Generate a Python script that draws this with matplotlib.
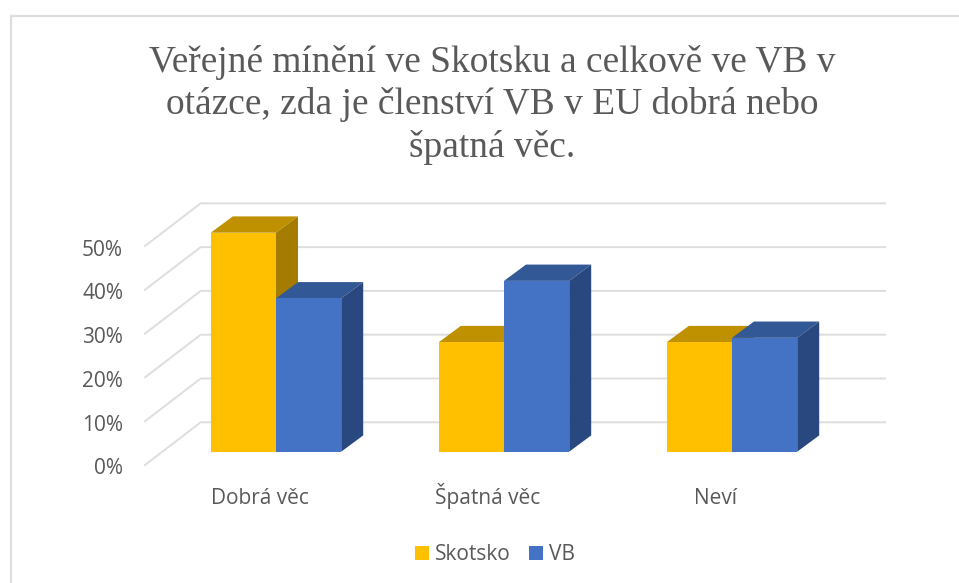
import numpy as np
import matplotlib
matplotlib.use("Agg")
import matplotlib.pyplot as plt
from matplotlib.patches import Polygon

categories = ["Dobrá věc", "Špatná věc", "Neví"]
skotsko = [50, 25, 25]
vb = [35, 39, 26]
ticks = [0, 10, 20, 30, 40, 50]
tick_labels = ["0%", "10%", "20%", "30%", "40%", "50%"]
title = "Veřejné mínění ve Skotsku a celkově ve VB v\notázce, zda je členství VB v EU dobrá nebo\nšpatná věc."

W, H = 959, 583
GROUP_PX = 228.0
PCT_PX = 4.38
X0_PX, Y0_PX = 276.0, 451.7

fig = plt.figure(figsize=(W / 100, H / 100), dpi=100)
ax = fig.add_axes([0, 0, 1, 1])
ax.set_xlim((0 - X0_PX) / GROUP_PX, (W - X0_PX) / GROUP_PX)
ax.set_ylim((Y0_PX - H) / PCT_PX, Y0_PX / PCT_PX)
ax.axis("off")

px = lambda n: n / GROUP_PX          # horizontal pixels to data units
py = lambda n: n / PCT_PX            # vertical pixels to data units
TEXT = "#595959"
GRID = "#DEDEDE"
FONT = "Open Sans"
FS = 15

# chart frame: only the left and top edges are visible
ax.plot([px(10.5 - X0_PX), px(10.5 - X0_PX), px(958 - X0_PX)],
        [py(Y0_PX - 583), py(Y0_PX - 16), py(Y0_PX - 16)],
        color="#DEDEDE", lw=1.6, zorder=0, solid_joinstyle="miter")

# gridlines: floor/wall in oblique projection
wall_front_x, wall_back_x, right_x = px(145 - X0_PX), px(200.7 - X0_PX), px(885 - X0_PX)
front_off, back_off = py(-13.3), py(29.4)
for t, lab in zip(ticks, tick_labels):
    ax.plot([wall_front_x, wall_back_x, right_x],
            [t + front_off, t + back_off, t + back_off],
            color=GRID, lw=1.4, zorder=1, solid_joinstyle="miter")
    ax.text(px(123 - X0_PX), t + py(-22.8), lab, ha="right", va="baseline",
            fontsize=FS, color=TEXT, family=FONT)

# bars
bw = px(65.2)
dx, dy = px(22), py(16.3)
series = [("Skotsko", skotsko, -bw, "#FFC000", "#BF9000", "#A67C00"),
          ("VB", vb, 0, "#4472C4", "#325895", "#2A4880")]
x = np.arange(len(categories))
handles = []
for i in x:
    for k, (name, vals, off, front, top, side) in enumerate(series):
        left = i + off
        v = vals[i]
        z = 3 + 0.1 * k
        b = ax.bar(left, v, width=bw, align="edge", color=front, lw=0, zorder=z + 0.05)
        if i == 0:
            handles.append(b[0])
        ax.add_patch(Polygon([(left, v), (left + bw, v), (left + bw + dx, v + dy), (left + dx, v + dy)],
                             closed=True, fc=top, ec="none", zorder=z))
        ax.add_patch(Polygon([(left + bw, 0), (left + bw + dx, dy), (left + bw + dx, v + dy), (left + bw, v)],
                             closed=True, fc=side, ec="none", zorder=z))

for i, c in zip(x, categories):
    ax.text(i - px(16.5), py(Y0_PX - 504), c, ha="center", va="baseline",
            fontsize=FS, color=TEXT, family=FONT)

fig.text(492 / W, 1 - 105 / H, title, ha="center", va="center", fontsize=26.9, color=TEXT,
         family="Liberation Serif", linespacing=1.27)

ax.legend(handles, ["Skotsko", "VB"], loc="center", bbox_to_anchor=(495 / W, 1 - 555 / H),
          bbox_transform=fig.transFigure, ncol=2, frameon=False,
          prop={"family": FONT, "size": FS}, labelcolor=TEXT, handlelength=0.67, handleheight=0.67,
          handletextpad=0.29, columnspacing=0.87, borderpad=0)

fig.savefig("out.png", dpi=100)
